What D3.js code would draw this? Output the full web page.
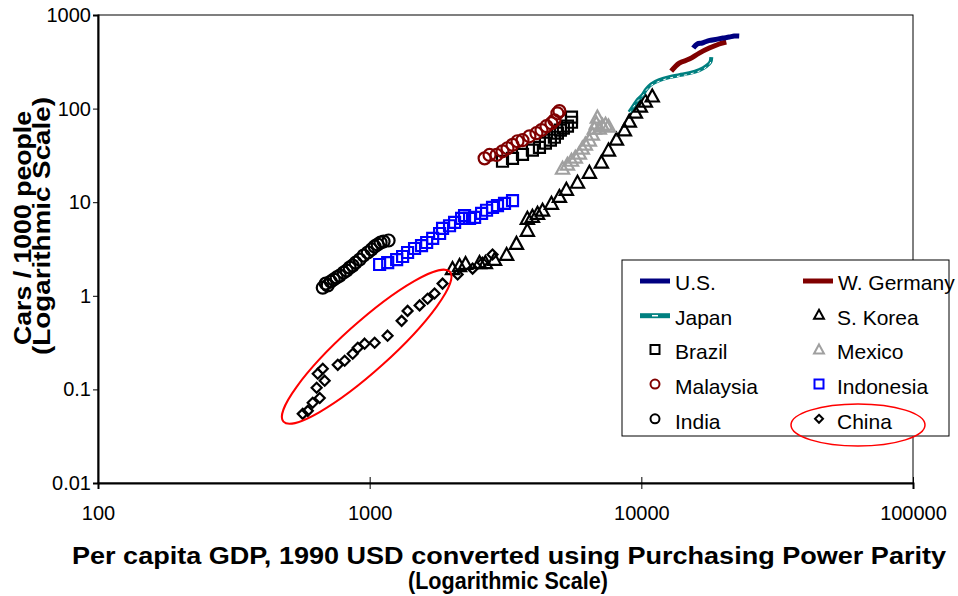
<!DOCTYPE html>
<html><head><meta charset="utf-8">
<script src="https://cdn.jsdelivr.net/npm/d3@7/dist/d3.min.js"></script>
<style>body{margin:0;background:#fff}svg{display:block;font-family:"Liberation Sans",Arial,sans-serif}</style>
</head><body><svg id="c" width="958" height="596"></svg>
<script>
// ---- data: [GDP per capita (1990 PPP USD), cars per 1000 people]
const us = [[15527,443],[16061,490],[16760,502],[17489,527],[18250,540],[19044,553],[20010,567],[21063,581],[21979,596],[22925,596]];
const wGermany = [[12882,251],[13792,306],[15011,338],[16336,392],[17783,443],[19354,490],[20545,514]];
const japan = [[9032,91.5],[9347,106],[9673,123],[10084,139],[10436,161],[10879,182],[11645,201],[12673,217],[13792,228],[15011,239],[16336,258],[17335,284],[17943,314],[18094,355]];
const sKorea = [[2018,1.95],[2142,2.1],[2254,2.21],[2537,2.26],[2666,2.26],[2881,2.44],[3192,2.76],[3470,3.62],[3806,5.0],[3806,6.71],[3972,7.05],[4148,7.59],[4329,8.2],[4668,9.71],[4994,11.5],[5297,13.7],[5821,16.3],[6438,20.8],[7129,26.7],[7570,36],[8099,47],[8664,59],[9032,73.3],[9506,91.5],[9916,106],[10345,120],[10970,136]];
const brazil = [[3083,27.4],[3356,29.4],[3652,32.5],[3972,36],[4217,38.6],[4436,42.7],[4627,46],[4786,49.4],[4909,54.6],[5035,59],[5164,61.7],[5346,64.9],[5533,71.5],[5533,80.9]];
const mexico = [[5129,23.0],[5346,25.4],[5533,28],[5716,30.2],[5916,33.3],[6067,37.7],[6223,41.6],[6438,46],[6603,53.2],[6716,61.7],[6833,69.8],[6890,80.9],[7007,61.7],[7193,66],[7384,68],[7570,64.9]];
const malaysia = [[2649,29.4],[2762,32],[2930,32],[3083,35],[3216,37.7],[3356,41],[3501,44.8],[3652,46],[3874,50.6],[4111,54.6],[4290,59],[4475,64.9],[4668,69.8],[4786,75],[4909,89],[4994,94]];
const indonesia = [[1088,2.16],[1165,2.26],[1257,2.44],[1322,2.63],[1379,2.9],[1463,3.2],[1552,3.44],[1621,3.71],[1706,4.1],[1809,4.63],[1855,5.24],[1968,5.6],[2054,6.08],[2180,6.71],[2235,7.2],[2332,6.71],[2434,6.87],[2582,7.59],[2693,8.2],[2833,8.79],[2955,9.2],[3136,9.71],[3356,10.4]];
const india = [[672,1.22],[689,1.35],[701,1.29],[719,1.42],[737,1.49],[756,1.57],[776,1.64],[802,1.77],[823,1.86],[844,2.0],[866,2.1],[888,2.26],[919,2.44],[950,2.69],[984,2.9],[1016,3.13],[1043,3.37],[1070,3.53],[1097,3.71],[1125,3.8],[1174,3.9]];
const china = [[567,0.0548],[592,0.059],[617,0.072],[638,0.104],[655,0.081],[644,0.147],[672,0.166],[683,0.124],[763,0.183],[809,0.202],[866,0.24],[904,0.279],[958,0.308],[1043,0.315],[1164,0.375],[1311,0.54],[1379,0.69],[1527,0.79],[1634,0.93],[1733,1.06],[1855,1.35],[2108,1.69],[2393,1.95],[2603,2.26],[2833,2.76]];
const xTicks = [100,1000,10000,100000];
const yTicks = [0.01,0.1,1,10,100,1000];
const xTitle = ["Per capita GDP, 1990 USD converted using Purchasing Power Parity","(Logarithmic Scale)"];
const yTitle = ["Cars / 1000 people","(Logarithmic Scale)"];
const chinaHighlight = {gdp: 975, cars: 0.286};

// ---- drawing
const FONT = "Liberation Sans, Arial, sans-serif";
const svg = d3.select("#c");
const L=98,R=913,T=15,B=483;
const x = d3.scaleLog().domain([100,100000]).range([L,R]);
const y = d3.scaleLog().domain([0.01,1000]).range([B,T]);

svg.append("rect").attr("x",L).attr("y",T).attr("width",R-L).attr("height",B-T)
  .attr("fill","none").attr("stroke","#000").attr("stroke-width",1);

const yAxis = d3.axisLeft(y).tickValues(yTicks).tickFormat(d=>String(d)).tickSize(5).tickPadding(2);
const gy = svg.append("g").attr("transform",`translate(${L},0)`).call(yAxis);
gy.select(".domain").attr("stroke-width",2);
gy.selectAll("text").attr("font-size",20).attr("font-family",FONT).attr("fill","#000");
const xAxis = d3.axisBottom(x).tickValues(xTicks).tickFormat(d=>String(d)).tickSize(6).tickPadding(17);
const gx = svg.append("g").attr("transform",`translate(0,${B})`).call(xAxis);
gx.select(".domain").attr("stroke-width",2);
gx.selectAll(".tick line").attr("y1",-6);
gx.selectAll("text").attr("font-size",20).attr("font-family",FONT).attr("fill","#000");

// titles
svg.append("text").attr("x",509).attr("y",564).attr("text-anchor","middle").attr("font-weight","bold")
  .attr("font-family",FONT).attr("font-size",23).attr("textLength",874).attr("lengthAdjust","spacingAndGlyphs").text(xTitle[0]);
svg.append("text").attr("x",508).attr("y",589).attr("text-anchor","middle").attr("font-weight","bold")
  .attr("font-family",FONT).attr("font-size",23).attr("textLength",200).attr("lengthAdjust","spacingAndGlyphs").text(xTitle[1]);
svg.append("text").attr("transform","translate(31,228) rotate(-90)").attr("text-anchor","middle").attr("font-weight","bold")
  .attr("font-family",FONT).attr("font-size",23).attr("textLength",234).attr("lengthAdjust","spacingAndGlyphs").text(yTitle[0]);
svg.append("text").attr("transform","translate(50,226) rotate(-90)").attr("text-anchor","middle").attr("font-weight","bold")
  .attr("font-family",FONT).attr("font-size",23).attr("textLength",258).attr("lengthAdjust","spacingAndGlyphs").text(yTitle[1]);

// shapes
const diamond = s => `M0,${-s}L${s},0L0,${s}L${-s},0Z`;
const shapes = {
  square: s => d3.symbol(d3.symbolSquare, s*s)(),
  circle: s => d3.symbol(d3.symbolCircle, Math.PI*s*s/4)(),
  triangle: s => `M0,${-s*0.55}L${s*0.55},${s*0.45}L${-s*0.55},${s*0.45}Z`,
  diamond: s => diamond(s/2)
};
const lineGen = d3.line().x(d=>x(d[0])).y(d=>y(d[1])).curve(d3.curveCatmullRom);

function drawLine(data,color,w){
  svg.append("path").datum(data).attr("d",lineGen).attr("fill","none").attr("stroke",color)
    .attr("stroke-width",w).attr("stroke-linecap","butt").attr("stroke-linejoin","round");
}
function drawPts(data,shape,color,size){
  svg.append("g").selectAll("path").data(data).join("path")
    .attr("transform",d=>`translate(${x(d[0])},${y(d[1])})`)
    .attr("d",shapes[shape](size)).attr("fill","none").attr("stroke",color).attr("stroke-width",2.2);
}
drawPts(china,"diamond","#000",10);
drawPts(india,"circle","#000",12);
drawPts(indonesia,"square","#0000FF",11);
drawPts(sKorea,"triangle","#000",12);
drawPts(mexico,"triangle","#A0A0A0",12);
drawPts(brazil,"square","#000",11);
drawPts(malaysia,"circle","#800000",12);
drawLine(japan,"#008080",4);
svg.append("path").datum(japan).attr("d",lineGen).attr("fill","none").attr("stroke","#fff")
  .attr("stroke-width",1).attr("stroke-dasharray","3,4").attr("transform","translate(0,1)");
drawLine(wGermany,"#800000",5);
drawLine(us,"#000080",5);

// highlight ellipse
svg.append("ellipse").attr("cx",x(chinaHighlight.gdp)).attr("cy",y(chinaHighlight.cars))
  .attr("rx",112).attr("ry",24)
  .attr("transform",`rotate(-42,${x(chinaHighlight.gdp)},${y(chinaHighlight.cars)})`)
  .attr("fill","none").attr("stroke","#FF0000").attr("stroke-width",2);

// legend
const lg = svg.append("g").attr("font-family",FONT);
lg.append("rect").attr("x",622).attr("y",260).attr("width",327).attr("height",176)
  .attr("fill","#fff").attr("stroke","#000").attr("stroke-width",1);
const legendItems = [
  {name:"U.S.",type:"line",color:"#000080",col:0,row:0},
  {name:"W. Germany",type:"line",color:"#800000",col:1,row:0},
  {name:"Japan",type:"japan",color:"#008080",col:0,row:1},
  {name:"S. Korea",type:"triangle",color:"#000",col:1,row:1},
  {name:"Brazil",type:"square",color:"#000",col:0,row:2},
  {name:"Mexico",type:"triangle",color:"#A0A0A0",col:1,row:2},
  {name:"Malaysia",type:"circle",color:"#800000",col:0,row:3},
  {name:"Indonesia",type:"square",color:"#0000FF",col:1,row:3},
  {name:"India",type:"circle",color:"#000",col:0,row:4},
  {name:"China",type:"diamond",color:"#000",col:1,row:4}
];
legendItems.forEach(it=>{
  const cy = 283 + it.row*34.7;
  const x0 = it.col===0 ? 640 : 803;
  let tx;
  if(it.type==="line"||it.type==="japan"){
    lg.append("line").attr("x1",x0).attr("x2",x0+30).attr("y1",cy-2).attr("y2",cy-2)
      .attr("stroke",it.color).attr("stroke-width",5);
    if(it.type==="japan") lg.append("line").attr("x1",x0+12).attr("x2",x0+18).attr("y1",cy-2).attr("y2",cy-2)
      .attr("stroke","#fff").attr("stroke-width",1.5);
    tx = x0+35;
  } else {
    const sx = it.col===0 ? 655 : 819;
    lg.append("path").attr("transform",`translate(${sx},${cy-3})`).attr("d",shapes[it.type](it.type==="diamond"?8:9))
      .attr("fill","none").attr("stroke",it.color).attr("stroke-width",2);
    tx = it.col===0 ? 675 : 837;
  }
  lg.append("text").attr("x",tx).attr("y",cy+7).attr("font-size",21).text(it.name);
});
svg.append("ellipse").attr("cx",858).attr("cy",425).attr("rx",67).attr("ry",21)
  .attr("fill","none").attr("stroke","#FF0000").attr("stroke-width",1.5);
</script></body></html>
